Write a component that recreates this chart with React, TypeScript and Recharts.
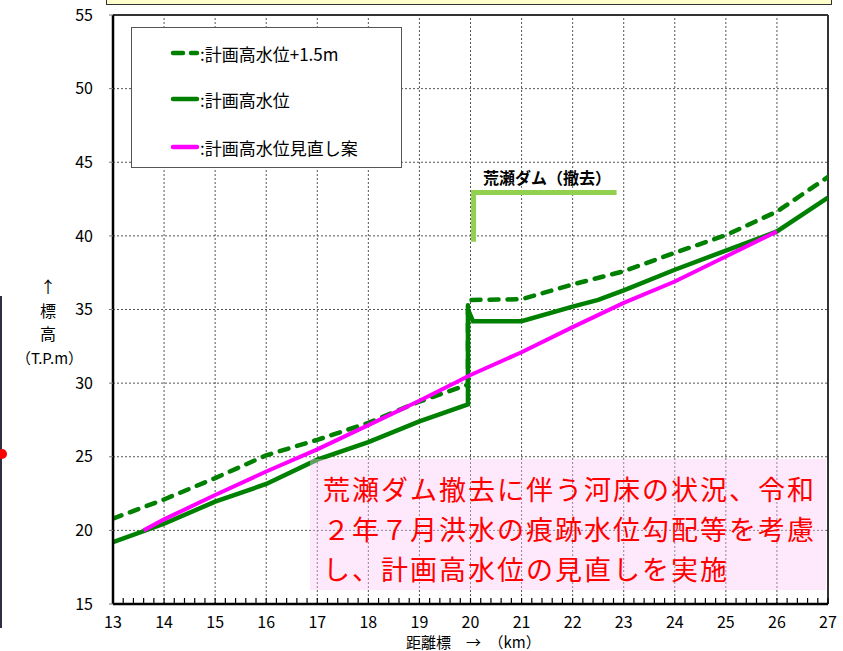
import React from 'react';
import { LineChart, Line, XAxis, YAxis, ReferenceLine } from 'recharts';

// 距離標 (km) / 標高 (T.P.m)
const kmPlanPlus = [13, 14, 15, 16, 17, 18, 19, 19.95, 19.95, 21, 22, 23, 24, 25, 26, 27];
const levelPlanPlus = [20.8, 22.1, 23.55, 25.1, 26.15, 27.3, 28.75, 29.9, 35.65, 35.7, 36.7, 37.6, 38.85, 40.05, 41.65, 44.0];

const kmPlan = [13, 14, 15, 16, 17, 18, 19, 19.95, 19.95, 20.05, 21, 22, 22.5, 23, 24, 25, 26, 27];
const levelPlan = [19.2, 20.45, 21.95, 23.15, 24.8, 26.0, 27.4, 28.55, 35.0, 34.2, 34.2, 35.2, 35.65, 36.3, 37.7, 39.0, 40.3, 42.6];

const kmRevised = [13.6, 14, 15, 16, 17, 18, 19, 20, 21, 22, 23, 24, 25, 26];
const levelRevised = [20.0, 20.75, 22.4, 24.0, 25.5, 27.15, 28.8, 30.55, 32.1, 33.8, 35.45, 36.9, 38.6, 40.3];

// 荒瀬ダム（撤去） marker
const kmDam = [20.06, 20.06, 22.86];
const levelDam = [39.6, 42.95, 42.95];

const xTicks = [13, 14, 15, 16, 17, 18, 19, 20, 21, 22, 23, 24, 25, 26, 27];
const yTicks = [15, 20, 25, 30, 35, 40, 45, 50, 55];
const minorSteps = [0, 0.2, 0.4, 0.6, 0.8];

const xAllTicks = xTicks.slice(0, -1)
  .flatMap((k) => minorSteps.map((s) => Math.round((k + s) * 10) / 10))
  .concat([27]);

const toRows = (xs: number[], ys: number[]) => xs.map((km, i) => ({ km, v: ys[i] }));

const GREEN = '#008000';
const MAGENTA = '#ff00ff';
const FONT = '"Noto Sans CJK JP", "Noto Sans", sans-serif';

const XTick = (props: any) => {
  const { x, y, payload } = props;
  const v = payload.value;
  if (Math.abs(v - Math.round(v)) > 1e-6) return null;
  return (
    <text x={x} y={y + 30} textAnchor="middle" fontSize={16} fill="#000" fontFamily={FONT}>
      {Math.round(v)}
    </text>
  );
};

const LegendRow = ({ top, dashed, color, label }: any) => (
  <div style={{ position: 'absolute', left: 38, top, height: 20, display: 'flex', alignItems: 'center' }}>
    <svg width={30} height={8}>
      <line
        x1={3}
        y1={4}
        x2={27}
        y2={4}
        stroke={color}
        strokeWidth={4.5}
        strokeLinecap="round"
        strokeDasharray={dashed ? '10 8' : undefined}
      />
    </svg>
    <span style={{ fontSize: 17, color: '#000', whiteSpace: 'nowrap' }}>:{label}</span>
  </div>
);

export default function App() {
  return (
    <div style={{ position: 'absolute', left: 0, top: 0, width: 843, height: 651, background: '#fff', fontFamily: FONT, overflow: 'hidden' }}>
      {/* strip of the slide at far left */}
      <div style={{ position: 'absolute', left: 0, top: 296, width: 2, height: 332, background: '#2c3040' }} />
      <div style={{ position: 'absolute', left: -3, top: 449, width: 10, height: 10, borderRadius: 5, background: '#ff0000' }} />

      {/* yellow box at top */}
      <div style={{ position: 'absolute', left: 106, top: -4, width: 724, height: 7, background: '#ffffcc', border: '1.5px solid #333' }} />

      <LineChart width={843} height={651} margin={{ top: 15, right: 15, left: 53, bottom: 17 }}>
        <XAxis
          dataKey="km"
          type="number"
          domain={[13, 27]}
          ticks={xAllTicks}
          interval={0}
          allowDataOverflow
          height={30}
          tickSize={-6}
          tickMargin={0}
          tickLine={{ stroke: '#000', strokeWidth: 1.2 }}
          axisLine={{ stroke: '#000', strokeWidth: 2.5 }}
          tick={<XTick />}
        />
        <YAxis
          type="number"
          domain={[15, 55]}
          ticks={yTicks}
          interval={0}
          allowDataOverflow
          width={60}
          tickSize={4}
          tickMargin={16}
          tickLine={{ stroke: '#777', strokeWidth: 1 }}
          axisLine={{ stroke: '#000', strokeWidth: 2.5 }}
          tick={{ fill: '#000', fontSize: 16, fontFamily: FONT }}
        />
        {xTicks.slice(1, -1).map((k) => (
          <ReferenceLine key={'vx' + k} x={k} stroke="#555" strokeDasharray="2 2" strokeWidth={1} />
        ))}
        {yTicks.slice(1, -1).map((v) => (
          <ReferenceLine key={'hy' + v} y={v} stroke="#555" strokeDasharray="2 2" strokeWidth={1} />
        ))}
        <ReferenceLine y={55} stroke="#333" strokeWidth={2} />
        <ReferenceLine x={27} stroke="#333" strokeWidth={2} />

        <Line
          data={toRows(kmDam, levelDam)}
          dataKey="v"
          type="linear"
          stroke="#92d050"
          strokeWidth={5}
          dot={false}
          isAnimationActive={false}
        />
        <Line
          data={toRows(kmPlanPlus, levelPlanPlus)}
          dataKey="v"
          type="linear"
          stroke={GREEN}
          strokeWidth={4.5}
          strokeDasharray="9 9"
          strokeLinecap="round"
          dot={false}
          isAnimationActive={false}
        />
        <Line
          data={toRows(kmPlan, levelPlan)}
          dataKey="v"
          type="linear"
          stroke={GREEN}
          strokeWidth={4.5}
          dot={false}
          isAnimationActive={false}
        />
        <Line
          data={toRows(kmRevised, levelRevised)}
          dataKey="v"
          type="linear"
          stroke={MAGENTA}
          strokeWidth={4}
          dot={false}
          isAnimationActive={false}
        />
      </LineChart>

      {/* legend */}
      <div style={{ position: 'absolute', left: 131, top: 27, width: 269, height: 139, border: '1px solid #555', background: '#fff' }}>
        <LegendRow top={15} dashed color={GREEN} label="計画高水位+1.5m" />
        <LegendRow top={61} color={GREEN} label="計画高水位" />
        <LegendRow top={109} color={MAGENTA} label="計画高水位見直し案" />
      </div>

      {/* dam annotation */}
      <div style={{ position: 'absolute', left: 483, top: 165, fontSize: 16, fontWeight: 'bold', color: '#000', whiteSpace: 'nowrap', lineHeight: '24px' }}>
        荒瀬ダム（撤去）
      </div>

      {/* note box */}
      <div
        style={{
          position: 'absolute',
          left: 310,
          top: 459,
          width: 516,
          height: 131,
          background: 'rgba(250, 200, 245, 0.4)',
          color: '#ff0000',
          fontSize: 27,
          letterSpacing: 2,
          lineHeight: '40px',
          paddingTop: 10,
          paddingLeft: 13,
          boxSizing: 'border-box',
          whiteSpace: 'nowrap',
        }}
      >
        <div>荒瀬ダム撤去に伴う河床の状況、令和</div>
        <div>２年７月洪水の痕跡水位勾配等を考慮</div>
        <div>し、計画高水位の見直しを実施</div>
      </div>

      {/* y axis title */}
      <div style={{ position: 'absolute', left: 16, top: 275, width: 64, textAlign: 'center', fontSize: 16, color: '#000', lineHeight: '23.5px' }}>
        <div>↑</div>
        <div>標</div>
        <div>高</div>
        <div style={{ fontSize: 15 }}>（T.P.m）</div>
      </div>

      {/* x axis title */}
      <div style={{ position: 'absolute', left: 406, top: 634, fontSize: 15, color: '#000', whiteSpace: 'nowrap', lineHeight: '16px' }}>
        距離標　→　（km）
      </div>
    </div>
  );
}
